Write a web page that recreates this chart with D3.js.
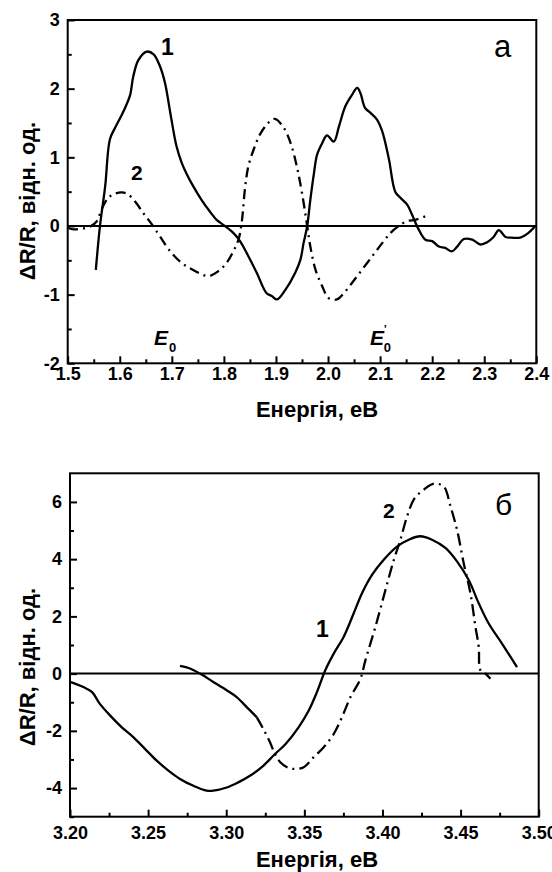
<!DOCTYPE html>
<html>
<head>
<meta charset="utf-8">
<script src="https://cdn.jsdelivr.net/npm/d3@7"></script>
<style>
  body { margin: 0; background: #fff; }
  svg text { font-family: "Liberation Sans", Arial, sans-serif; }
</style>
</head>
<body>
<svg width="552" height="872"></svg>
<script>
// Panel а: energy (eV) and dR/R for curves 1 and 2
let aCurve1X = [1.554, 1.562, 1.572, 1.581, 1.591, 1.604, 1.613, 1.620, 1.626, 1.636, 1.652, 1.665, 1.677, 1.687, 1.697, 1.709, 1.719, 1.729, 1.741, 1.757, 1.773, 1.786, 1.802, 1.818, 1.831, 1.847, 1.863, 1.882, 1.892, 1.902, 1.918, 1.937, 1.947, 1.953, 1.960, 1.966, 1.973, 1.979, 1.989, 1.998, 2.011, 2.021, 2.033, 2.046, 2.056, 2.062, 2.071, 2.081, 2.094, 2.104, 2.117, 2.129, 2.139, 2.152, 2.161, 2.174, 2.187, 2.200, 2.213, 2.225, 2.238, 2.248, 2.261, 2.277, 2.293, 2.305, 2.318, 2.328, 2.341, 2.353, 2.369, 2.385, 2.398];
let aCurve1Y = [-0.64, 0, 0.58, 1.26, 1.43, 1.62, 1.77, 1.91, 2.18, 2.42, 2.54, 2.50, 2.33, 2.08, 1.65, 1.16, 0.92, 0.75, 0.58, 0.38, 0.21, 0.09, 0, -0.10, -0.22, -0.44, -0.68, -0.98, -1.02, -1.07, -0.93, -0.68, -0.49, -0.25, 0, 0.38, 0.77, 1.04, 1.21, 1.32, 1.23, 1.45, 1.74, 1.91, 2.01, 1.94, 1.72, 1.65, 1.55, 1.38, 0.97, 0.50, 0.41, 0.31, 0.17, -0.05, -0.20, -0.22, -0.30, -0.32, -0.37, -0.30, -0.19, -0.20, -0.27, -0.24, -0.16, -0.06, -0.16, -0.17, -0.17, -0.10, 0];

let aCurve2X = [1.501, 1.511, 1.524, 1.540, 1.556, 1.565, 1.578, 1.591, 1.604, 1.616, 1.629, 1.645, 1.661, 1.677, 1.697, 1.719, 1.741, 1.770, 1.789, 1.805, 1.818, 1.828, 1.834, 1.841, 1.847, 1.857, 1.869, 1.885, 1.898, 1.915, 1.928, 1.940, 1.950, 1.960, 1.966, 1.976, 1.989, 2.001, 2.017, 2.030, 2.046, 2.065, 2.085, 2.104, 2.120, 2.136, 2.152, 2.168, 2.190];
let aCurve2Y = [-0.03, -0.05, -0.04, -0.02, 0.07, 0.24, 0.41, 0.47, 0.49, 0.46, 0.36, 0.19, 0.03, -0.15, -0.37, -0.54, -0.64, -0.73, -0.66, -0.54, -0.37, -0.20, 0.04, 0.58, 0.87, 1.11, 1.33, 1.50, 1.56, 1.43, 1.21, 0.87, 0.48, 0, -0.30, -0.64, -0.88, -1.05, -1.07, -0.98, -0.83, -0.64, -0.44, -0.25, -0.10, 0, 0.07, 0.09, 0.15];

let aXTicks = [1.5, 1.6, 1.7, 1.8, 1.9, 2.0, 2.1, 2.2, 2.3, 2.4];
let aYTicks = [-2, -1, 0, 1, 2, 3];

// Panel б
let bCurve1X = [3.200, 3.2085, 3.214, 3.219, 3.2256, 3.233, 3.2405, 3.248, 3.2555, 3.263, 3.2704, 3.279, 3.2875, 3.2917, 3.3003, 3.3077, 3.3152, 3.3237, 3.3312, 3.338, 3.3464, 3.3528, 3.3581, 3.3634, 3.3688, 3.3752, 3.3816, 3.3869, 3.3933, 3.4008, 3.4093, 3.4168, 3.4242, 3.4317, 3.4403, 3.4477, 3.4552, 3.4616, 3.468, 3.4765, 3.4861];
let bCurve1Y = [-0.29, -0.47, -0.64, -1.05, -1.46, -1.87, -2.22, -2.63, -3.04, -3.39, -3.68, -3.92, -4.09, -4.09, -3.98, -3.80, -3.57, -3.22, -2.81, -2.46, -1.87, -1.29, -0.64, 0.12, 0.70, 1.29, 2.11, 2.81, 3.45, 3.98, 4.44, 4.68, 4.80, 4.68, 4.39, 3.92, 3.27, 2.46, 1.75, 1.05, 0.23];

let bCurve2X = [3.2704, 3.2768, 3.2832, 3.2917, 3.3003, 3.3067, 3.3131, 3.3195, 3.3237, 3.328, 3.3312, 3.3346, 3.3389, 3.3432, 3.3496, 3.356, 3.3624, 3.3688, 3.3741, 3.3795, 3.3859, 3.3891, 3.3955, 3.4019, 3.4073, 3.4115, 3.4158, 3.4207, 3.4265, 3.4329, 3.4393, 3.4435, 3.4477, 3.452, 3.4563, 3.4595, 3.4616, 3.4627, 3.4659, 3.4691];
let bCurve2Y = [0.27, 0.18, 0, -0.29, -0.58, -0.82, -1.17, -1.52, -1.93, -2.40, -2.81, -3.10, -3.27, -3.33, -3.27, -2.92, -2.57, -2.11, -1.52, -0.82, -0.18, 0.47, 1.64, 2.92, 3.98, 4.68, 5.50, 6.14, 6.43, 6.64, 6.53, 5.85, 5.03, 3.86, 2.81, 1.64, 0.94, 0.12, 0, -0.18];

let bXTicks = [3.20, 3.25, 3.30, 3.35, 3.40, 3.45, 3.50];
let bYTicks = [-4, -2, 0, 2, 4, 6];

let svg = d3.select("svg");
let font = "Liberation Sans, Arial, sans-serif";

function zip(xs, ys) { return xs.map((x, i) => ({ x: x, y: ys[i] })); }

function drawPanel(opt) {
  let g = svg.append("g").attr("transform", "translate(" + opt.left + "," + opt.top + ")");
  let x = d3.scaleLinear().domain(opt.xDomain).range([0, opt.w]);
  let y = d3.scaleLinear().domain(opt.yDomain).range([opt.h, 0]);

  // minor ticks
  g.append("g")
    .attr("transform", "translate(0," + opt.h + ")")
    .call(d3.axisBottom(x).tickValues(opt.xMinor).tickSize(-4).tickFormat(""))
    .call(a => a.select(".domain").remove())
    .selectAll("line").attr("stroke-width", 2);
  g.append("g")
    .call(d3.axisLeft(y).tickValues(opt.yMinor).tickSize(-4).tickFormat(""))
    .call(a => a.select(".domain").remove())
    .selectAll("line").attr("stroke-width", 2);

  // major ticks
  let xa = g.append("g")
    .attr("transform", "translate(0," + opt.h + ")")
    .call(d3.axisBottom(x).tickValues(opt.xTicks).tickSize(-7).tickPadding(opt.xPad).tickFormat(d3.format(opt.xFmt)));
  xa.select(".domain").remove();
  xa.selectAll("line").attr("stroke-width", 2);
  xa.selectAll("text").attr("font-size", 18).attr("font-weight", "bold").attr("fill", "#000")
    .attr("font-family", font);

  let ya = g.append("g")
    .call(d3.axisLeft(y).tickValues(opt.yTicks).tickSize(-7).tickPadding(8).tickFormat(d3.format("d")));
  ya.select(".domain").remove();
  ya.selectAll("line").attr("stroke-width", 2);
  ya.selectAll("text").attr("font-size", 18).attr("font-weight", "bold").attr("fill", "#000")
    .attr("font-family", font)
    .text(d => d < 0 ? "-" + Math.abs(d) : d);

  // frame
  g.append("rect").attr("width", opt.w).attr("height", opt.h)
    .attr("fill", "none").attr("stroke", "#000").attr("stroke-width", 2);

  // zero line
  g.append("line").attr("x1", 0).attr("x2", opt.w).attr("y1", y(0)).attr("y2", y(0))
    .attr("stroke", "#000").attr("stroke-width", 2);

  let line = d3.line().x(d => x(d.x)).y(d => y(d.y)).curve(d3.curveCatmullRom);
  opt.curves.forEach(c => {
    g.append("path").datum(c.data).attr("d", line)
      .attr("fill", "none").attr("stroke", "#000").attr("stroke-width", 2.3)
      .attr("stroke-linejoin", "round")
      .attr("stroke-dasharray", c.dash || null);
  });

  // axis titles
  svg.append("text").attr("x", 317).attr("y", opt.titleY)
    .attr("text-anchor", "middle").attr("font-size", 22).attr("font-weight", "bold")
    .text("Енергія, еВ");
  svg.append("text")
    .attr("transform", "translate(35," + opt.yTitleY + ") rotate(-90)")
    .attr("text-anchor", "middle").attr("font-size", 22).attr("font-weight", "bold")
    .text("ΔR/R, відн. од.");

  return { g: g, x: x, y: y };
}

function label(px, py, txt, size, bold) {
  svg.append("text").attr("x", px).attr("y", py).attr("font-size", size)
    .attr("font-weight", bold ? "bold" : "normal").text(txt);
}

// Panel а
let pa = drawPanel({
  left: 67.7, top: 20, w: 468.6, h: 343.3,
  xDomain: [1.5, 2.4], yDomain: [-2, 3],
  xTicks: aXTicks, yTicks: aYTicks,
  xMinor: d3.range(1.55, 2.4, 0.1), yMinor: d3.range(-1.5, 3, 1),
  xFmt: ".1f", xPad: 4,
  titleY: 417, yTitleY: 201,
  curves: [
    { data: zip(aCurve1X, aCurve1Y) },
    { data: zip(aCurve2X, aCurve2Y), dash: "10,5,2,5" }
  ]
});

label(161, 55, "1", 23, true);
label(131, 180, "2", 21, true);
label(494, 57, "а", 31, false);

function eLabel(px, py, prime) {
  let t = svg.append("text").attr("x", px).attr("y", py)
    .attr("font-size", 21).attr("font-weight", "bold").attr("font-style", "italic");
  t.append("tspan").text("E");
  if (prime) {
    t.append("tspan").attr("font-size", 11).attr("font-style", "normal").attr("dy", -12).attr("dx", 0).text("'");
    t.append("tspan").attr("font-size", 13).attr("font-style", "normal").attr("dx", -3).attr("dy", 19).text("0");
  } else {
    t.append("tspan").attr("font-size", 13).attr("font-style", "normal").attr("dx", 1).attr("dy", 7).text("0");
  }
}
eLabel(154, 345, false);
eLabel(370, 345, true);

// Panel б
let pb = drawPanel({
  left: 70, top: 473.3, w: 468.7, h: 343.4,
  xDomain: [3.2, 3.5], yDomain: [-5, 7],
  xTicks: bXTicks, yTicks: bYTicks,
  xMinor: d3.range(3.225, 3.5, 0.05), yMinor: [-5, -3, -1, 1, 3, 5],
  xFmt: ".2f", xPad: 10,
  titleY: 867, yTitleY: 667,
  curves: [
    { data: zip(bCurve1X, bCurve1Y) },
    { data: zip(bCurve2X, bCurve2Y).filter(d => d.x <= 3.3196) },
    { data: zip(bCurve2X, bCurve2Y).filter(d => d.x >= 3.3195), dash: "12,5,2,5" }
  ]
});

label(316, 637, "1", 23, true);
label(383, 518, "2", 21, true);
label(495, 515, "б", 30, false);
</script>
</body>
</html>
